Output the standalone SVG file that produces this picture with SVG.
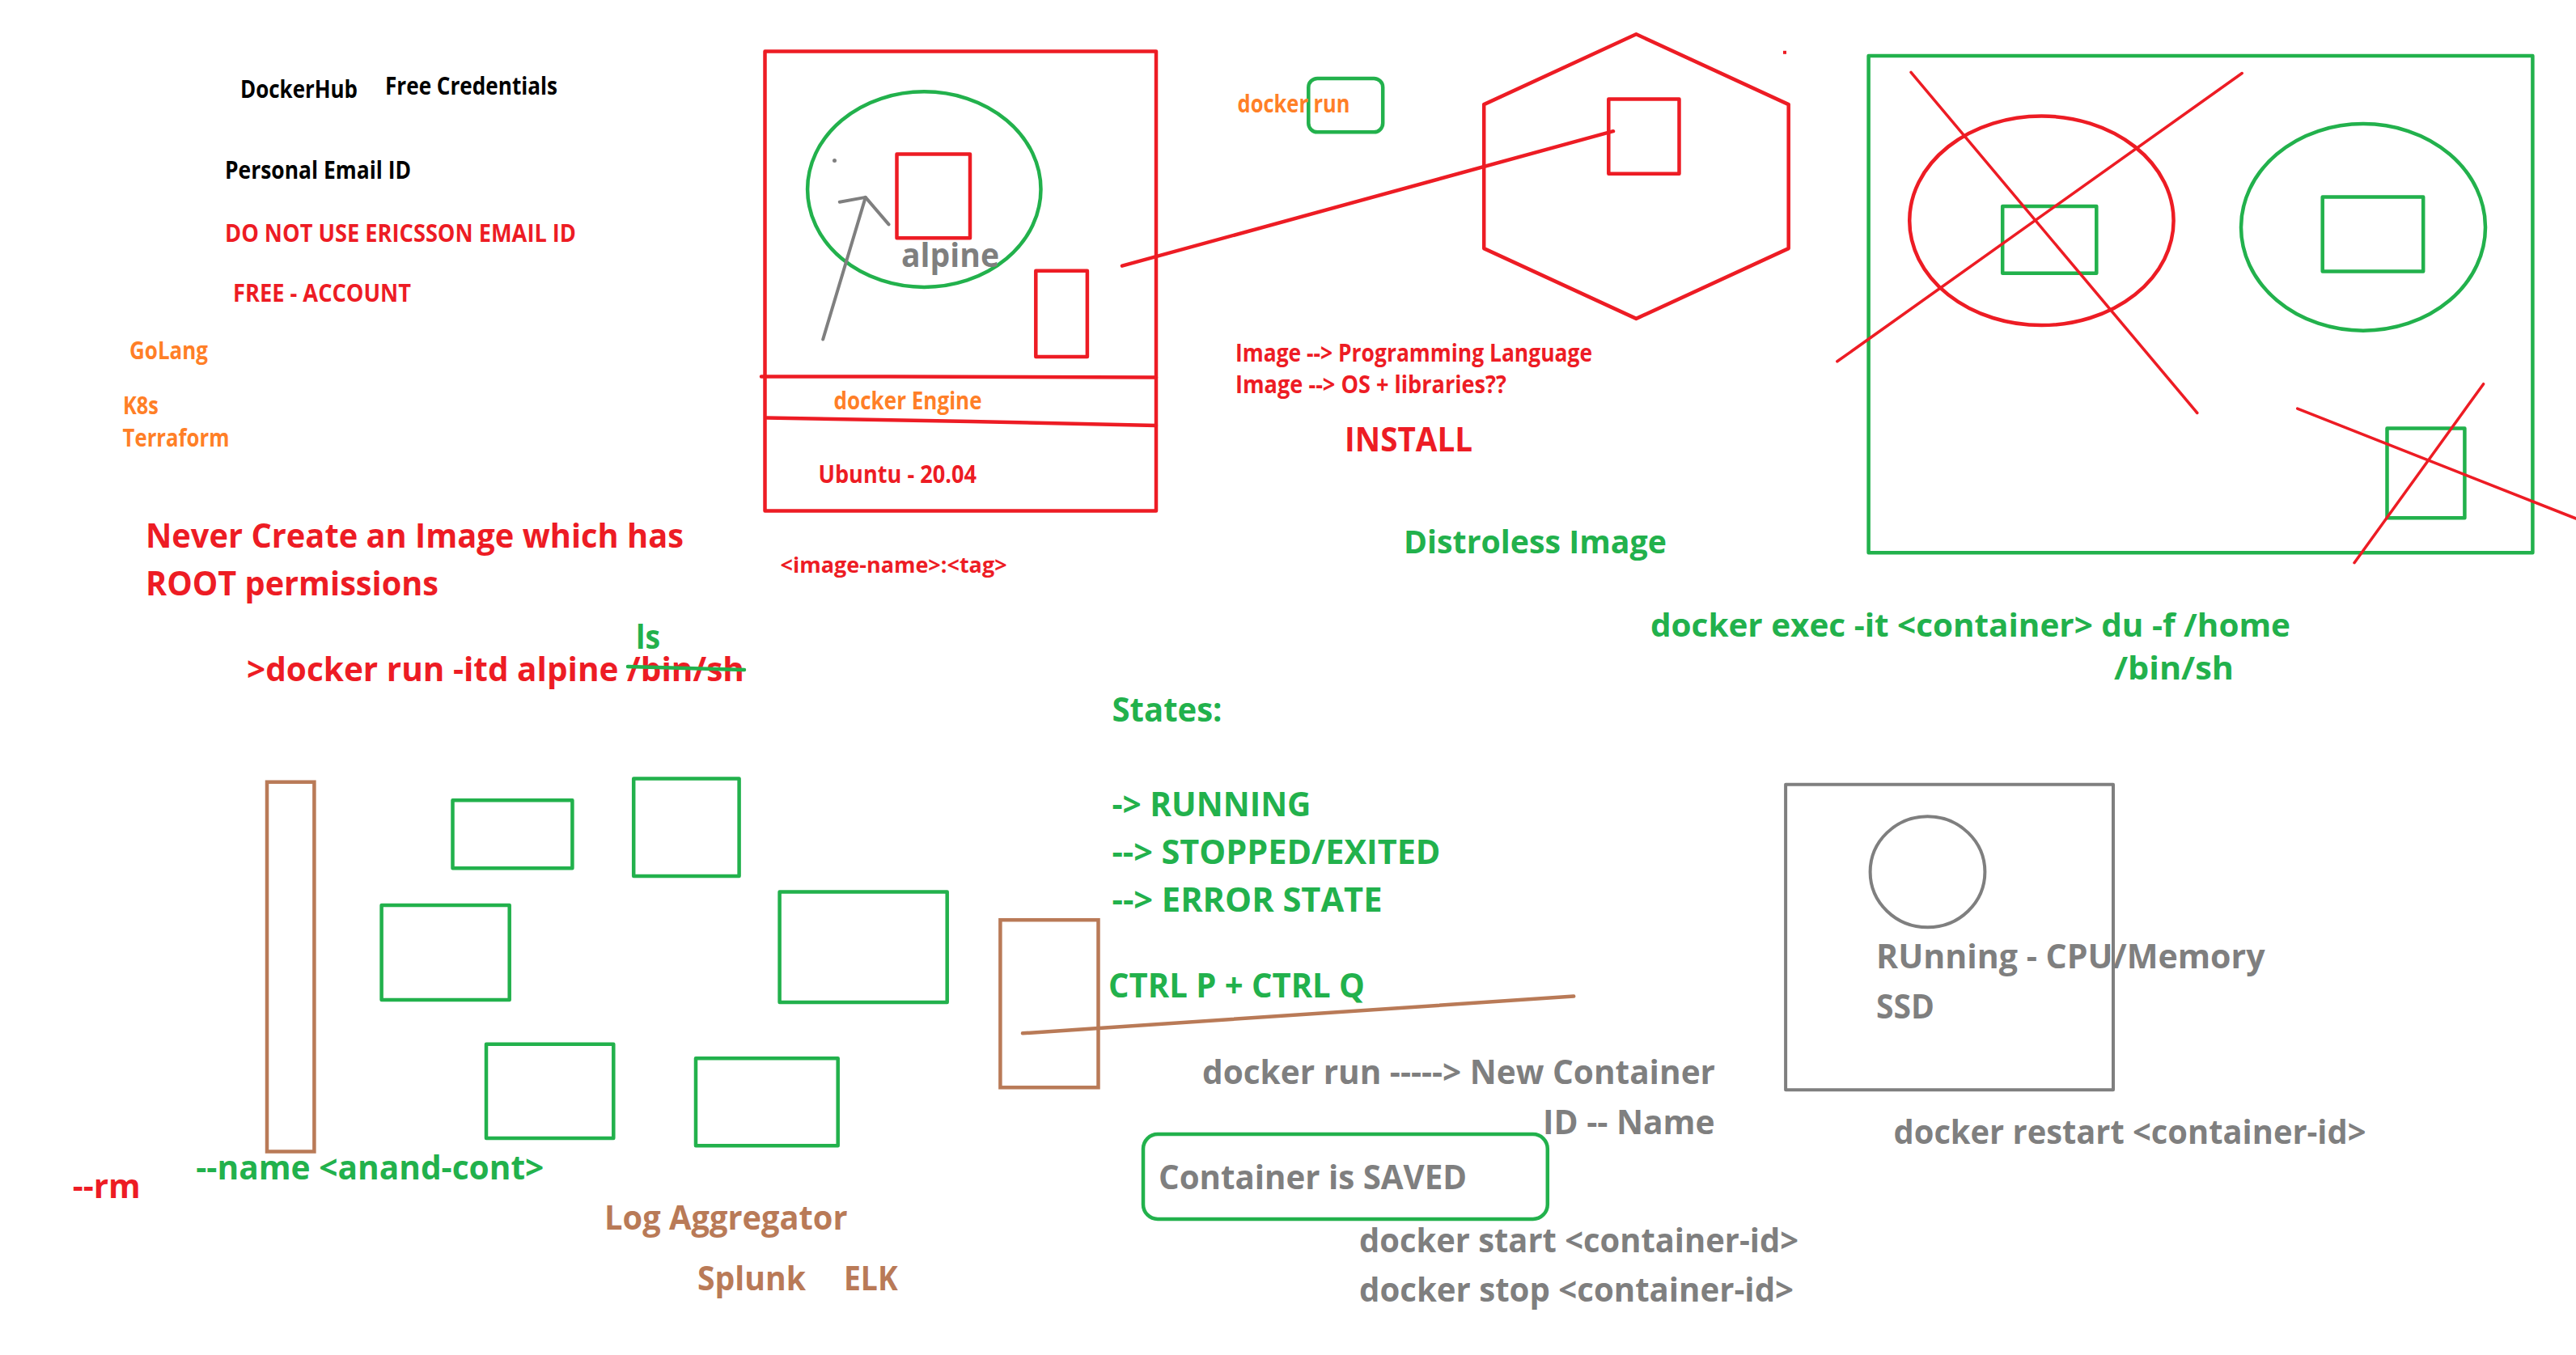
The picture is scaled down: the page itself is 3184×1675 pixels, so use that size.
<svg xmlns="http://www.w3.org/2000/svg" width="3184" height="1675" viewBox="0 0 3184 1675">
<style>
text{font-family:"Open Sans","Liberation Sans",sans-serif;font-weight:700;}
.s{font-size:30px;}
.m{font-size:27px;}
.l{font-size:42px;}
.k{fill:#000000;}
.r{fill:#ED1C24;}
.o{fill:#FF7F27;}
.g{fill:#22B14C;}
.y{fill:#7F7F7F;}
.b{fill:#B97A57;}
.sr{fill:none;stroke:#ED1C24;stroke-width:4.5;stroke-linecap:round;stroke-linejoin:round;}
.sg{fill:none;stroke:#22B14C;stroke-width:4.5;stroke-linecap:round;stroke-linejoin:round;}
.sb{fill:none;stroke:#B97A57;stroke-width:4.5;stroke-linecap:round;}
.sy{fill:none;stroke:#7F7F7F;stroke-width:4;stroke-linecap:round;stroke-linejoin:round;}
.thin{stroke-width:3.5;}
</style>
<rect width="3184" height="1675" fill="#ffffff"/>

<g id="notes-left">
<text class="s k" x="297" y="120.5" textLength="145" lengthAdjust="spacingAndGlyphs">DockerHub</text>
<text class="s k" x="476" y="116.5" textLength="213" lengthAdjust="spacingAndGlyphs">Free Credentials</text>
<text class="s k" x="278" y="220.5" textLength="230" lengthAdjust="spacingAndGlyphs">Personal Email ID</text>
<text class="s r" x="278" y="298.5" textLength="434" lengthAdjust="spacingAndGlyphs">DO NOT USE ERICSSON EMAIL ID</text>
<text class="s r" x="288" y="373" textLength="220" lengthAdjust="spacingAndGlyphs">FREE - ACCOUNT</text>
<text class="s o" x="160" y="443.5" textLength="97" lengthAdjust="spacingAndGlyphs">GoLang</text>
<text class="s o" x="152" y="512" textLength="44" lengthAdjust="spacingAndGlyphs">K8s</text>
<text class="s o" x="151.5" y="551.6" textLength="132" lengthAdjust="spacingAndGlyphs">Terraform</text>
<text class="l r" x="180" y="677" textLength="665" lengthAdjust="spacingAndGlyphs">Never Create an Image which has</text>
<text class="l r" x="180" y="736.4" textLength="362" lengthAdjust="spacingAndGlyphs">ROOT permissions</text>
</g>

<g id="docker-run-cmd">
<text class="l r" x="305" y="842" textLength="615" lengthAdjust="spacingAndGlyphs">&gt;docker run -itd alpine /bin/sh</text>
<line class="sg" x1="776" y1="824" x2="920" y2="828"/>
<text class="l g" x="786" y="802" textLength="30" lengthAdjust="spacingAndGlyphs">ls</text>
</g>

<g id="host-box">
<rect class="sr" x="945.5" y="63.5" width="483.5" height="568"/>
<polyline class="sr" points="941,465.5 1100,465.5 1429,466.5"/>
<polyline class="sr" points="948,516.5 1200,521 1429,526"/>
<text class="s o" x="1030.6" y="505.6" textLength="183" lengthAdjust="spacingAndGlyphs">docker Engine</text>
<text class="s r" x="1011.4" y="596.5" textLength="195.6" lengthAdjust="spacingAndGlyphs">Ubuntu - 20.04</text>
</g>

<g id="alpine-container">
<ellipse class="sg" cx="1142.3" cy="234.1" rx="144.2" ry="120.8"/>
<rect class="sr" x="1108.5" y="190.4" width="90.5" height="103.8"/>
<text class="l y" x="1114" y="330" textLength="121" lengthAdjust="spacingAndGlyphs">alpine</text>
<circle cx="1031.5" cy="198.5" r="2.5" fill="#7F7F7F"/>
</g>

<g id="small-container">
<rect class="sr" x="1280.3" y="334.8" width="63.6" height="106.2"/>
</g>

<g id="image-tag">
<text class="m r" x="964.6" y="708" textLength="280" lengthAdjust="spacingAndGlyphs">&lt;image-name&gt;:&lt;tag&gt;</text>
</g>

<g id="docker-run-label">
<rect class="sg" x="1617.3" y="96.9" width="91.9" height="66.4" rx="11" ry="11"/>
<text class="s o" x="1529.6" y="139.3" textLength="139" lengthAdjust="spacingAndGlyphs">docker run</text>
</g>

<g id="hexagon">
<polygon class="sr" points="2022.4,42.3 2210.7,129.1 2210.7,307.1 2022.4,393.9 1834.2,307.1 1834.2,129.1"/>
<rect class="sr" x="1988.3" y="122.4" width="87.2" height="92.4"/>
<rect x="2204" y="62.8" width="4" height="4" fill="#ED1C24"/>
</g>

<g id="image-notes">
<text class="s r" x="1527" y="447.4" textLength="441" lengthAdjust="spacingAndGlyphs">Image --&gt; Programming Language</text>
<text class="s r" x="1527" y="486.2" textLength="335" lengthAdjust="spacingAndGlyphs">Image --&gt; OS + libraries??</text>
<text class="l r" x="1662" y="557.6" textLength="158" lengthAdjust="spacingAndGlyphs">INSTALL</text>
<text class="g" style="font-size:39px" x="1735" y="683.7" textLength="325" lengthAdjust="spacingAndGlyphs">Distroless Image</text>
</g>

<g id="green-host">
<rect class="sg" x="2309.6" y="69.1" width="820.8" height="614.1"/>
<ellipse class="sr" cx="2523.4" cy="272.8" rx="163.2" ry="129.3"/>
<rect class="sg" x="2475.2" y="254.9" width="116.1" height="82.8"/>
<ellipse class="sg" cx="2921" cy="280.9" rx="151" ry="127.8"/>
<rect class="sg" x="2870.7" y="243.6" width="124.5" height="91.8"/>
<rect class="sg" x="2950.5" y="529.5" width="95.9" height="110.8"/>
</g>

<g id="exec-cmd">
<text class="g" style="font-size:40px" x="2040" y="787" textLength="791" lengthAdjust="spacingAndGlyphs">docker exec -it &lt;container&gt; du -f /home</text>
<text class="g" style="font-size:40px" x="2613" y="840" textLength="148" lengthAdjust="spacingAndGlyphs">/bin/sh</text>
</g>

<g id="container-cluster">
<rect class="sb" x="330" y="966.7" width="58.4" height="456.8"/>
<rect class="sg" x="559.5" y="989.2" width="147.9" height="84"/>
<rect class="sg" x="783.2" y="962.4" width="130.4" height="120.6"/>
<rect class="sg" x="471.6" y="1118.9" width="158.1" height="117"/>
<rect class="sg" x="963.6" y="1102.5" width="207.1" height="136.4"/>
<rect class="sg" x="601" y="1290.7" width="157.3" height="116.3"/>
<rect class="sg" x="860" y="1308.3" width="175.7" height="107.9"/>
<rect class="sb" x="1236.4" y="1137.2" width="121.1" height="207.1"/>
</g>

<g id="cluster-notes">
<text class="l g" x="242.3" y="1458.2" textLength="430" lengthAdjust="spacingAndGlyphs">--name &lt;anand-cont&gt;</text>
<text class="l r" x="89.7" y="1481.3" textLength="84" lengthAdjust="spacingAndGlyphs">--rm</text>
<text class="l b" x="747" y="1519.7" textLength="300.5" lengthAdjust="spacingAndGlyphs">Log Aggregator</text>
<text class="l b" x="862" y="1595.2" textLength="134" lengthAdjust="spacingAndGlyphs">Splunk</text>
<text class="l b" x="1043" y="1595.2" textLength="66.6" lengthAdjust="spacingAndGlyphs">ELK</text>
</g>

<g id="states">
<text class="l g" x="1374.5" y="891.8" textLength="136" lengthAdjust="spacingAndGlyphs">States:</text>
<text class="l g" x="1374.5" y="1009.3" textLength="246" lengthAdjust="spacingAndGlyphs">-&gt; RUNNING</text>
<text class="l g" x="1374.5" y="1068.4" textLength="406" lengthAdjust="spacingAndGlyphs">--&gt; STOPPED/EXITED</text>
<text class="l g" x="1374.5" y="1126.8" textLength="334" lengthAdjust="spacingAndGlyphs">--&gt; ERROR STATE</text>
<text class="l g" x="1370" y="1233.4" textLength="317" lengthAdjust="spacingAndGlyphs">CTRL P + CTRL Q</text>
</g>

<g id="run-notes">
<text class="l y" x="1486" y="1340" textLength="634" lengthAdjust="spacingAndGlyphs">docker run -----&gt; New Container</text>
<text class="l y" x="1907" y="1402" textLength="212.6" lengthAdjust="spacingAndGlyphs">ID -- Name</text>
</g>

<g id="saved-box">
<rect class="sg" x="1413" y="1402.1" width="499.8" height="104.8" rx="18" ry="18"/>
<text class="l y" x="1432" y="1470.4" textLength="381" lengthAdjust="spacingAndGlyphs">Container is SAVED</text>
</g>

<g id="start-stop">
<text class="l y" x="1680" y="1548.3" textLength="543" lengthAdjust="spacingAndGlyphs">docker start &lt;container-id&gt;</text>
<text class="l y" x="1680" y="1609.2" textLength="537" lengthAdjust="spacingAndGlyphs">docker stop &lt;container-id&gt;</text>
</g>

<g id="running-box">
<rect class="sy" x="2207.1" y="969.7" width="404.9" height="377.6"/>
<ellipse class="sy" cx="2382.5" cy="1077.8" rx="70.9" ry="68.5"/>
<text class="l y" x="2319" y="1197" textLength="480.6" lengthAdjust="spacingAndGlyphs">RUnning - CPU/Memory</text>
<text class="l y" x="2319" y="1259" textLength="72" lengthAdjust="spacingAndGlyphs">SSD</text>
<text class="l y" x="2340.5" y="1414.3" textLength="584" lengthAdjust="spacingAndGlyphs">docker restart &lt;container-id&gt;</text>
</g>

<g id="connectors">
<line class="sr" x1="1387" y1="328.6" x2="1994" y2="162.2"/>
<line class="sy" x1="1017.2" y1="419.5" x2="1069.8" y2="243.9"/>
<polyline class="sy" points="1037.8,249.7 1069.8,243.9 1098.5,277.4"/>
<line class="sb" x1="1264" y1="1277.3" x2="1945.2" y2="1231.6"/>
<line class="sr thin" x1="2362" y1="89.4" x2="2715.8" y2="510.5"/>
<line class="sr thin" x1="2771.2" y1="90.5" x2="2270.8" y2="446.8"/>
<line class="sr thin" x1="2839.7" y1="505.1" x2="3184" y2="641"/>
<line class="sr thin" x1="3069.6" y1="474.7" x2="2910" y2="695.7"/>
</g>
</svg>
